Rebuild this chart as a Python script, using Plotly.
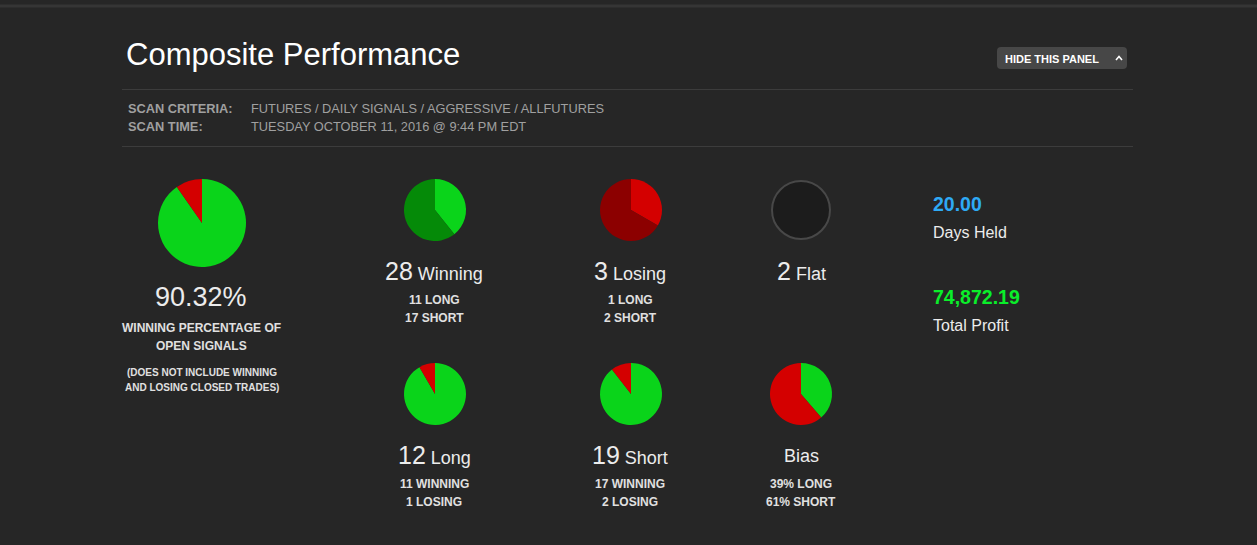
import plotly.graph_objects as go

W, H = 1257, 545

# ---- data ----
winning_total = 28
losing_total = 3
flat_total = 2
winning_split = [11, 17]      # long, short
losing_split = [1, 2]         # long, short
long_split = [11, 1]          # winning, losing
short_split = [17, 2]         # winning, losing
bias_split = [12, 19]         # long, short
days_held = 20.00
total_profit = 74872.19
scan_criteria = "FUTURES / DAILY SIGNALS / AGGRESSIVE / ALLFUTURES"
scan_time = "TUESDAY OCTOBER 11, 2016 @ 9:44 PM EDT"

GREEN = "#0ad41a"
DGREEN = "#058a08"
RED = "#d40000"
DRED = "#8c0000"
BG = "#262626"
FONT = "Liberation Sans, Arial, sans-serif"
TXT = "#ececec"
SMALL = "#e0e0e0"

fig = go.Figure()


def add_pie(values, colors, cx, cy, r):
    fig.add_trace(go.Pie(
        values=values, sort=False, direction="clockwise", rotation=0,
        marker=dict(colors=colors, line=dict(width=0)),
        textinfo="none", textposition="none", hoverinfo="none",
        showlegend=False,
        domain=dict(x=[(cx - r) / W, (cx + r) / W],
                    y=[(H - cy - r) / H, (H - cy + r) / H]),
    ))


add_pie([winning_total, losing_total], [GREEN, RED], 202, 223, 44)
add_pie(winning_split, [GREEN, DGREEN], 435, 210, 31)
add_pie(losing_split, [RED, DRED], 631, 210, 31)
add_pie(long_split, [GREEN, RED], 435, 394, 31)
add_pie(short_split, [GREEN, RED], 631, 394, 31)
add_pie(bias_split, [GREEN, RED], 801, 394, 31)

ann = []


def text(x, y, s, size, color=TXT, anchor="center"):
    if anchor == "left":
        x -= 2
    ann.append(dict(x=x, y=y, xref="x", yref="y", text=s, showarrow=False,
                    xanchor=anchor, yanchor="middle",
                    font=dict(family=FONT, size=size, color=color)))


pct = winning_total / (winning_total + losing_total) * 100
text(126, 54, "Composite Performance", 31, "#ffffff", "left")
text(1005, 58.5, "<b>HIDE THIS PANEL</b>", 11, "#ffffff", "left")

text(128, 108, "<b>SCAN CRITERIA:</b>", 12.8, "#a0a0a0", "left")
text(128, 126, "<b>SCAN TIME:</b>", 12.8, "#a0a0a0", "left")
text(251, 108, scan_criteria, 12.8, "#a0a0a0", "left")
text(251, 126, scan_time, 12.8, "#a0a0a0", "left")

text(201, 297, f"{pct:.2f}%", 27)
text(201, 328, "<b>WINNING PERCENTAGE OF</b>", 12, SMALL)
text(201, 346, "<b>OPEN SIGNALS</b>", 12, SMALL)
text(202, 372, "<b>(DOES NOT INCLUDE WINNING</b>", 10, SMALL)
text(202, 387, "<b>AND LOSING CLOSED TRADES)</b>", 10, SMALL)


def big(n, label):
    return f"<span style='font-size:25px'>{n}</span> {label}"


BY = -1.5  # baseline correction for mixed-size labels

text(434, 272 + BY, big(winning_total, "Winning"), 18)
text(434, 300, f"<b>{winning_split[0]} LONG</b>", 12, SMALL)
text(434, 318, f"<b>{winning_split[1]} SHORT</b>", 12, SMALL)

text(630, 272 + BY, big(losing_total, "Losing"), 18)
text(630, 300, f"<b>{losing_split[0]} LONG</b>", 12, SMALL)
text(630, 318, f"<b>{losing_split[1]} SHORT</b>", 12, SMALL)

text(801, 272 + BY, big(flat_total, "Flat"), 18)

long_total = sum(long_split)
short_total = sum(short_split)
text(434, 456 + BY, big(long_total, "Long"), 18)
text(434, 484, f"<b>{long_split[0]} WINNING</b>", 12, SMALL)
text(434, 502, f"<b>{long_split[1]} LOSING</b>", 12, SMALL)

text(630, 456 + BY, big(short_total, "Short"), 18)
text(630, 484, f"<b>{short_split[0]} WINNING</b>", 12, SMALL)
text(630, 502, f"<b>{short_split[1]} LOSING</b>", 12, SMALL)

bl = round(bias_split[0] / sum(bias_split) * 100)
text(801, 456, "Bias", 18)
text(801, 484, f"<b>{bl}% LONG</b>", 12, SMALL)
text(801, 502, f"<b>{100 - bl}% SHORT</b>", 12, SMALL)

text(933, 204, f"<b>{days_held:.2f}</b>", 19.5, "#2eaaf5", "left")
text(933, 232, "Days Held", 16, TXT, "left")
text(933, 297, f"<b>{total_profit:,.2f}</b>", 19.5, "#0aee2a", "left")
text(933, 325, "Total Profit", 16, TXT, "left")

shapes = [
    dict(type="rect", xref="x", yref="y", x0=0, x1=W, y0=4.5, y1=7.5,
         fillcolor="#353535", line=dict(width=0), layer="below"),
    dict(type="line", xref="x", yref="y", x0=122, x1=1133, y0=89.5, y1=89.5,
         line=dict(color="#3c3c3c", width=1)),
    dict(type="line", xref="x", yref="y", x0=122, x1=1133, y0=146.5, y1=146.5,
         line=dict(color="#3c3c3c", width=1)),
    dict(type="path", xref="x", yref="y",
         path="M 1001,47 L 1123,47 Q 1127,47 1127,51 L 1127,65 Q 1127,69 1123,69 "
              "L 1001,69 Q 997,69 997,65 L 997,51 Q 997,47 1001,47 Z",
         fillcolor="#474747", line=dict(width=0), layer="below"),
    dict(type="path", xref="x", yref="y",
         path="M 1116,60 L 1119,56.5 L 1122,60",
         line=dict(color="#ffffff", width=1.6)),
    dict(type="circle", xref="x", yref="y", x0=772, x1=830, y0=181, y1=239,
         fillcolor="#1c1c1c", line=dict(color="#484848", width=2)),
]

fig.update_layout(
    width=W, height=H, margin=dict(l=0, r=0, t=0, b=0),
    paper_bgcolor=BG, plot_bgcolor=BG,
    xaxis=dict(range=[0, W], visible=False, fixedrange=True),
    yaxis=dict(range=[H, 0], visible=False, fixedrange=True),
    annotations=ann, shapes=shapes,
)

fig.write_html(
    "out.html",
    config={"displayModeBar": False},
    post_script="document.body.style.margin='0';document.body.style.background='#262626';",
)
